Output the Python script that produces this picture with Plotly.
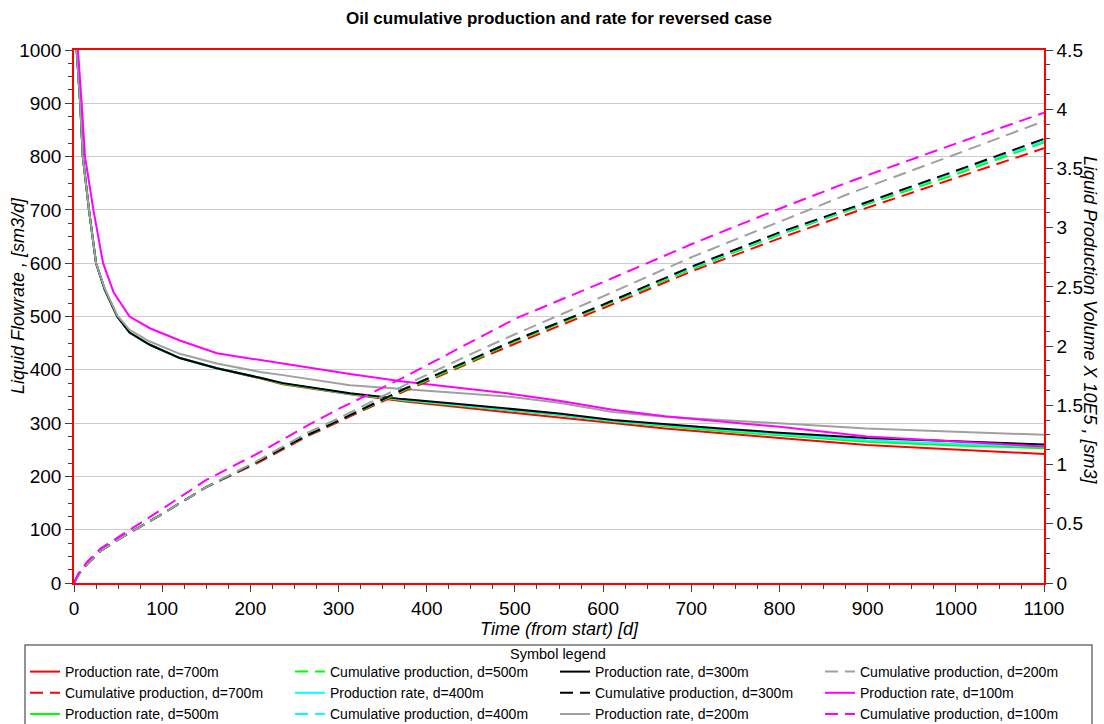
import plotly.graph_objects as go

# ---- data -------------------------------------------------------------
distances = ["700m", "500m", "400m", "300m", "200m", "100m"]
colors = ["#FF0000", "#00FF00", "#00FFFF", "#000000", "#A0A0A0", "#FF00FF"]

# production rate [sm3/d]
t_rate = [0, 3, 7, 10, 17, 25, 35, 49, 63, 86, 120, 162, 211, 237, 313, 373,
          430, 491, 550, 611, 670, 733, 800, 899, 1000, 1100]
rate_700 = [1150, 1000, 900, 800, 700, 600, 550, 500, 470, 447, 422, 403, 384, 373,
            354, 341, 331, 321, 311, 300, 290, 281, 272, 259, 250, 242]
rate_500 = [1150, 1000, 900, 800, 700, 600, 550, 500, 470, 447, 422, 403, 385, 374,
            355, 343, 334, 325, 315, 303, 294, 285, 277, 265, 258, 253]
rate_400 = [1150, 1000, 900, 800, 700, 600, 550, 500, 470, 447, 422, 403, 385, 375,
            355, 344, 335, 326, 316, 304, 296, 287, 279, 268, 261, 256]
rate_300 = [1150, 1000, 900, 800, 700, 600, 550, 500, 470, 447, 422, 403, 385, 375,
            356, 345, 337, 328, 318, 306, 298, 290, 282, 272, 266, 260]
rate_200 = [1150, 1000, 900, 800, 700, 600, 552, 502, 475, 453, 430, 412, 396, 390,
            371, 364, 357, 350, 338, 321, 312, 306, 300, 290, 284, 278]
t_rate_100 = [0, 4.5, 8.7, 12.5, 22, 33, 45, 63, 86, 120, 162, 211, 237, 313, 373,
              430, 491, 550, 611, 670, 733, 800, 899, 1000, 1100]
rate_100 = [1150, 1000, 900, 800, 700, 600, 545, 500, 478, 455, 431, 418, 412, 392,
            378, 368, 356, 342, 325, 313, 303, 293, 275, 265, 256]

# cumulative production [1e5 sm3]
t_cum = [0, 5, 15, 30, 55, 95, 150, 210, 265, 300, 375, 455, 500, 600, 700, 800,
         880, 1000, 1100]
cum_700 = [0, 0.07, 0.16, 0.27, 0.39, 0.56, 0.81, 1.02, 1.24, 1.36, 1.62, 1.88, 2.02,
           2.32, 2.63, 2.91, 3.12, 3.42, 3.67]
cum_500 = [0, 0.07, 0.16, 0.27, 0.39, 0.56, 0.81, 1.03, 1.25, 1.37, 1.63, 1.89, 2.04,
           2.34, 2.65, 2.94, 3.15, 3.45, 3.72]
cum_400 = [0, 0.07, 0.16, 0.27, 0.39, 0.56, 0.81, 1.03, 1.25, 1.37, 1.64, 1.90, 2.05,
           2.35, 2.66, 2.95, 3.16, 3.47, 3.73]
cum_300 = [0, 0.07, 0.16, 0.27, 0.39, 0.56, 0.81, 1.03, 1.25, 1.37, 1.64, 1.90, 2.05,
           2.35, 2.67, 2.96, 3.165, 3.48, 3.75]
cum_200 = [0, 0.07, 0.16, 0.27, 0.39, 0.56, 0.81, 1.04, 1.27, 1.39, 1.67, 1.95, 2.10,
           2.42, 2.75, 3.05, 3.29, 3.62, 3.90]
cum_100 = [0, 0.08, 0.18, 0.29, 0.41, 0.60, 0.87, 1.10, 1.33, 1.47, 1.74, 2.05, 2.23,
           2.54, 2.86, 3.16, 3.39, 3.71, 3.97]

rate_t = [t_rate, t_rate, t_rate, t_rate, t_rate, t_rate_100]
rates = [rate_700, rate_500, rate_400, rate_300, rate_200, rate_100]
cums = [cum_700, cum_500, cum_400, cum_300, cum_200, cum_100]

FONT = "Liberation Sans, Arial, sans-serif"

# plot area in pixels (left, right, top, bottom)
PL, PR, PT, PB = 74, 1044, 50, 583
W, H = 1104, 724


def px_x(p):
    return (p - PL) / (PR - PL)


def px_y(p):
    return (PB - p) / (PB - PT)


# the symbol legend has four columns of three entries; entries are taken
# in the order rate/cumulative per distance and filled column by column
legend_ids = ["legend", "legend2", "legend3", "legend4"]
col_left = [25, 290, 555, 820]

fig = go.Figure()
for i, d in enumerate(distances):
    for kind in (0, 1):
        k = 2 * i + kind
        leg = legend_ids[k // 3]
        rank = k % 3 + 1
        if kind == 0:
            fig.add_trace(go.Scatter(
                x=rate_t[i], y=rates[i], mode="lines",
                name=f"Production rate, d={d}",
                line=dict(color=colors[i], width=2),
                legend=leg, legendrank=rank, yaxis="y"))
        else:
            fig.add_trace(go.Scatter(
                x=t_cum, y=cums[i], mode="lines",
                name=f"Cumulative production, d={d}",
                line=dict(color=colors[i], width=2, dash="13px,7px"),
                legend=leg, legendrank=rank, yaxis="y2"))

tick_font = dict(family=FONT, size=19, color="#000000")
legend_font = dict(family=FONT, size=14, color="#000000")

legend_layout = {}
for j, lid in enumerate(legend_ids):
    legend_layout[lid] = dict(
        orientation="v", x=px_x(col_left[j]), xanchor="left",
        y=px_y(656), yanchor="top", borderwidth=0,
        bgcolor="rgba(0,0,0,0)", font=legend_font, itemwidth=30,
        tracegroupgap=0, traceorder="normal")

fig.update_layout(
    width=W, height=H,
    margin=dict(l=PL, r=W - PR, t=PT, b=H - PB, autoexpand=False),
    paper_bgcolor="white", plot_bgcolor="white",
    title=dict(text="<b>Oil cumulative production and rate for reversed case</b>",
               x=0.5, xref="paper", y=1 - 18 / H, yanchor="middle",
               font=dict(family=FONT, size=17, color="#000000")),
    xaxis=dict(range=[0, 1100], dtick=100, tick0=0,
               showline=True, linecolor="#FF0000", linewidth=1.5, mirror=True,
               ticks="outside", ticklen=7, tickcolor="#404040", tickwidth=1,
               minor=dict(dtick=25, ticks="outside", ticklen=4, tickcolor="#404040"),
               showgrid=False, zeroline=False, tickfont=tick_font,
               title=dict(text="<i>Time (from start) [d]</i>", standoff=0,
                          font=dict(family=FONT, size=18, color="#000000"))),
    yaxis=dict(range=[0, 1000], dtick=100, tick0=0,
               showline=True, linecolor="#FF0000", linewidth=1.5,
               ticks="outside", ticklen=7, tickcolor="#404040", tickwidth=1,
               minor=dict(dtick=25, ticks="outside", ticklen=4, tickcolor="#404040"),
               showgrid=True, gridcolor="#CCCCCC", gridwidth=1, zeroline=False,
               tickfont=tick_font),
    yaxis2=dict(range=[0, 4.5], dtick=0.5, tick0=0, overlaying="y", side="right",
                showline=True, linecolor="#FF0000", linewidth=1.5,
                ticks="outside", ticklen=7, tickcolor="#404040", tickwidth=1,
                minor=dict(dtick=0.125, ticks="outside", ticklen=4, tickcolor="#404040"),
                showgrid=False, zeroline=False, tickfont=tick_font),
    showlegend=True,
    shapes=[
        # frame around the symbol legend (runs past the bottom edge)
        dict(type="rect", xref="paper", yref="paper",
             x0=px_x(25), x1=px_x(1092), y0=px_y(645), y1=px_y(760),
             line=dict(color="#707070", width=1.5), fillcolor="rgba(0,0,0,0)",
             layer="below"),
    ],
    annotations=[
        dict(text="<i>Liquid Flowrate , [sm3/d]</i>", xref="paper", yref="paper",
             x=px_x(18), y=px_y(296), textangle=-90,
             showarrow=False, xanchor="center", yanchor="middle",
             font=dict(family=FONT, size=18, color="#000000")),
        dict(text="<i>Liquid Production Volume X 10E5 , [sm3]</i>", xref="paper",
             yref="paper", x=px_x(1090), y=px_y(320), textangle=90,
             showarrow=False, xanchor="center", yanchor="middle",
             font=dict(family=FONT, size=18, color="#000000")),
        dict(text="Symbol legend", xref="paper", yref="paper",
             x=px_x(558), y=px_y(654), showarrow=False,
             xanchor="center", yanchor="middle",
             font=dict(family=FONT, size=14.5, color="#000000")),
    ],
    **legend_layout,
)

fig.write_html("out.html")
